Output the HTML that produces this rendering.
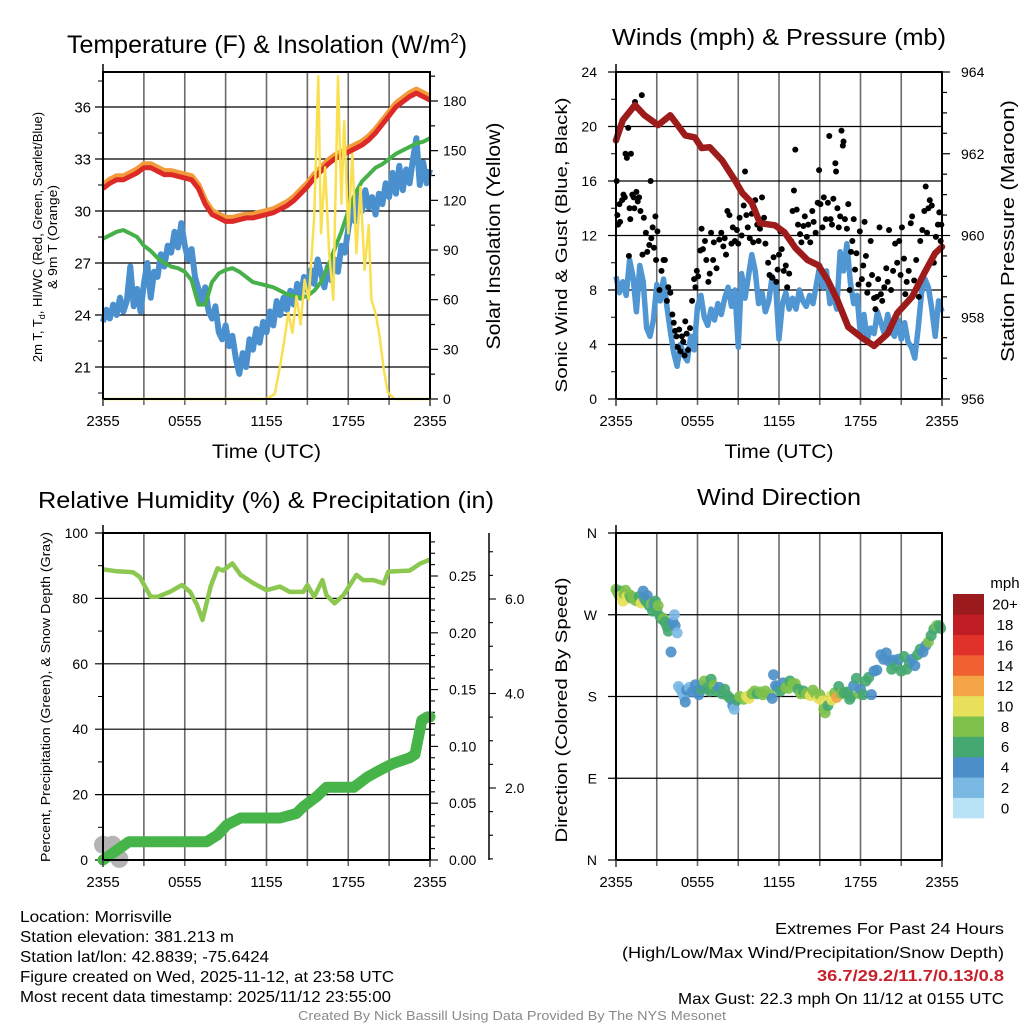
<!DOCTYPE html>
<html><head><meta charset="utf-8"><style>
html,body{margin:0;padding:0;background:#fff;}
svg{display:block;font-family:"Liberation Sans Narrow","Liberation Sans",sans-serif;}
</style></head><body>
<svg id="chart" width="1024" height="1024" viewBox="0 0 1024 1024" xmlns="http://www.w3.org/2000/svg"></svg>
<script>
// ---------- DATA ----------
const halfHours = Array.from({length:49},(_,i)=>i*0.5);
const quarterHours = Array.from({length:97},(_,i)=>i*0.25);
const timeTickHours = [0,6,12,18,24];
const timeTickLabels = ['2355','0555','1155','1755','2355'];

const tempRed = [31.3,31.6,31.8,31.8,32.0,32.2,32.5,32.5,32.3,32.1,32.1,32.0,31.9,31.8,31.3,30.4,29.8,29.6,29.4,29.4,29.5,29.6,29.6,29.7,29.8,29.9,30.1,30.3,30.6,31.0,31.4,31.9,32.3,32.7,33.0,33.2,33.4,33.6,33.8,34.1,34.5,35.0,35.5,36.0,36.3,36.6,36.8,36.6,36.4];
const temp9mOrange = [31.5,31.8,32.0,32.0,32.2,32.4,32.7,32.7,32.5,32.3,32.3,32.2,32.1,32.0,31.5,30.6,30.0,29.8,29.6,29.6,29.7,29.8,29.8,29.9,30.0,30.1,30.3,30.5,30.8,31.2,31.6,32.1,32.5,32.9,33.2,33.4,33.6,33.8,34.0,34.3,34.7,35.2,35.7,36.2,36.5,36.8,37.0,36.8,36.6];
const hiwcGreen = [28.4,28.6,28.8,28.9,28.7,28.5,28.0,27.7,27.3,27.0,26.8,26.7,26.5,26.0,24.6,24.6,25.9,26.4,26.6,26.7,26.5,26.2,25.9,25.8,25.7,25.6,25.4,25.2,25.1,25.0,25.1,25.4,25.9,26.8,27.8,28.8,30.0,31.0,31.7,32.1,32.5,32.7,33.0,33.3,33.5,33.7,33.9,34.0,34.2];
const dewBlue = [23.6,24.3,23.8,24.6, 24.0,25.0,24.2,24.8, 26.8,24.5,25.5,24.2, 25.8,27.0,25.0,26.5, 26.2,27.5,26.8,28.0, 27.6,28.8,27.9,29.3, 28.0,27.2,27.8,26.2, 25.5,24.8,25.6,24.2, 23.8,24.5,23.0,22.6, 23.4,22.2,22.8,21.5, 20.6,21.8,21.0,22.6, 22.0,23.2,22.4,23.6, 23.0,24.2,23.4,24.8, 24.0,25.0,24.3,25.4, 24.6,25.8,25.0,26.2, 25.4,26.6,25.8,27.2, 26.4,25.6,26.8,26.0, 27.2,26.5,28.0,27.6, 29.0,30.2,29.4,31.0, 30.0,31.2,30.2,30.8, 29.8,31.0,30.4,31.6, 30.8,32.2,31.0,32.6, 31.2,32.4,31.6,33.0, 34.2,31.5,32.8,31.6, 32.4];
const insolT = [0,12.0,12.6,13.0,13.3,13.6,13.9,14.2,14.5,14.8,15.1,15.5,15.8,16.0,16.3,16.6,16.9,17.25,17.5,17.7,18.0,18.3,18.6,18.9,19.2,19.5,19.7,20.0,20.3,20.6,20.9,21.4,24];
const insolV = [0,0,3,20,35,52,40,62,45,72,60,110,195,100,140,88,60,195,118,168,100,148,88,128,78,105,60,52,38,18,4,0,0];
const tempTicks = [21,24,27,30,33,36];
const insolTicks = [0,30,60,90,120,150,180];

const windBlue = [9.0,7.8,8.6,7.6, 10.2,9.0,6.4,9.8, 8.6,5.2,4.6,5.8, 8.4,7.2,8.8,6.8, 5.0,3.4,2.4,4.0, 3.2,2.8,4.6,3.6, 6.8,7.6,6.0,5.4, 6.6,5.8,7.0,6.2, 7.4,8.2,6.8,8.0, 3.8,9.2,7.4,9.0, 10.6,9.4,7.0,7.8, 6.4,7.2,9.0,8.4, 4.4,7.0,7.8,6.6, 7.4,6.6,8.0,7.2, 6.8,7.6,7.0,8.4, 9.8,8.2,9.4,7.0, 7.6,6.6,10.8,9.4, 11.4,8.6,7.0,7.6, 4.6,6.2,4.4,5.2, 4.8,6.4,5.6,4.8, 6.2,5.0,4.6,5.8, 4.4,5.6,4.2,3.8, 3.0,5.2,7.8,8.8, 8.2,6.6,4.6,7.2, 6.4];
const gustT = [0.05,0.1,0.15,0.25,0.3,0.45,0.55,0.65,0.7,0.8,0.9,1.0,1.05,0.95, 1.1,1.2,1.3,1.35,1.4,1.5,1.6,1.7,1.8,1.9,1.95,2.05, 2.2,2.3,2.45,2.55,2.6,2.7,2.8,2.9,2.95, 3.05,3.2,3.35,3.5,3.6,3.75,3.85,4.0, 4.15,4.25,4.35,4.45,4.55,4.65,4.75,4.85,4.95,5.05,5.1,5.2, 5.3,5.45,5.6,5.75,5.85,5.95,6.05,6.2, 6.3,6.4,6.55,6.65,6.8,6.9,7.0,7.15,7.2, 7.4,7.6,7.75,7.9,8.0,8.1,8.2,8.35, 8.5,8.6,8.75,8.9,9.0,9.1,9.25,9.4,9.5,9.6, 9.7,9.85,10.0,10.1,10.25,10.4,10.5,10.6,10.75, 10.9,11.0,11.2,11.3,11.5,11.6,11.8,11.9,12.0, 12.1,12.2,12.35,12.5,12.6,12.75,12.9,13.0,13.1, 13.2,13.3,13.4,13.55,13.65,13.8,13.9,14.05,14.15,14.3, 14.45,14.55,14.7,14.85,14.95,15.05,15.2,15.3,15.45,15.6, 15.7,15.8,15.9,16.0,16.15,16.2,16.3,16.4,16.5,16.6,16.7,16.75,16.85, 17.0,17.1,17.2,17.3,17.4,17.5,17.6,17.7,17.85,17.95, 18.1,18.2,18.3,18.4,18.5,18.6,18.75,18.85,19.0,19.1, 19.2,19.3,19.4,19.5,19.6,19.75,19.9,20.0,20.1, 20.25,20.4,20.55,20.7,20.85,20.95,21.05,21.2,21.3, 21.4,21.55,21.7,21.8,21.95,22.1,22.3,22.4,22.55, 22.7,22.8,22.9,23.0,23.1,23.25,23.4,23.55,23.7,23.8,23.9,23.95];
const gustV = [16,13.5,12.8,14.3,13,14.6,15,14.8,18,17.7,19.9,14,13.2,10.5, 18,15,14.8,14,21.8,15.2,14.5,14.8,13.8,22.3,10.6,13.3, 12.2,10.8,11.3,16,11.8,12.6,11.1,13.4,10.2, 12.3,8,9.4,10.2,10.2,7.2,8.2,7.8, 6.2,5.6,5,4.6,3.8,5.1,3.5,4.6,4.2,3.2,5.7,4.8, 3.6,5.2,7.2,8.8,8.2,9.4,9,10.9, 12.5,11,11.6,10.2,8.6,9.2,12.2,10.2,11.5, 9.6,11.7,12.2,11.2,11.8,10.6,13.8,13.5, 11.4,12.6,11.6,12.4,11.4,13.3,12,14.2,16.7,13.5, 12.6,11.8,13.6,11.5,14.6,12.8,11.6,12.5,14.8, 13.3,11.4,10,9.1,8.9,10.4,8.6,9.5,10.6, 12.3,11,9.4,9.8,8.2,9.2,11.6,13.8,15.3, 18.3,13.9,12.8,12.1,11.5,12.7,13.4,11.9,12.8,11.5, 13.8,13,12.2,14.4,16.8,14.3,12.6,14.8,13.2,14.4, 19.3,13.2,12.8,14.7,17.3,16.7,14,12.6,13.4,19.7,18.6,18.9,13.2, 12.5,14.3,8,10.8,11.6,13.2,9.5,10.7,8.4,12.3, 8.8,9.8,13,10.5,7.8,8.4,11.6,9.1,7.4,6.6, 7.5,8.8,12.6,7.7,7.2,8.2,9.6,8.6,12.4, 8,9.4,11.4,10,11.6,9.1,12.6,10.3,7.7, 8.6,9.4,12.9,13.4,8.7,10.2,7.5,11.6,12.4, 13.8,15.6,12.2,14,14.6,14.2,10,11.9,12.8,13.7,11.6,12.8];
const presT = [0,0.5,1.4,2.1,3.1,4.0,5.1,5.8,6.3,6.9,7.8,8.75,9.3,10.0,10.6,11.7,12.4,13.2,14.1,14.9,15.6,16.3,17.1,18.1,19.0,20.0,20.7,21.8,22.7,23.5,24];
const presV = [962.33,962.82,963.19,962.94,962.7,962.94,962.45,962.4,962.14,962.16,961.84,961.35,961.04,960.8,960.3,960.25,960.08,959.7,959.4,959.27,958.9,958.42,957.76,957.5,957.3,957.6,958.1,958.5,959.08,959.57,959.72];
const windTicks = [0,4,8,12,16,20,24];
const presTicks = [956,958,960,962,964];

const rhT = [0,1.0,2.2,2.7,3.5,4.0,4.9,5.8,6.4,6.9,7.3,7.9,8.4,8.8,9.5,10.1,11.05,12.0,13.0,13.7,14.7,15.0,15.5,16.1,16.4,17.0,17.65,18.6,19.1,19.85,20.6,20.95,22.5,23.3,23.9,24];
const rhV = [88.9,88.3,88,86.5,80.5,80.5,82,84.1,82,78,73.4,83.6,89.2,88.5,90.7,87.2,84.6,82.5,83.6,82,82,84.1,80.5,85.6,81,78.5,81,87.2,85.6,85.6,84.6,88.2,88.5,90.7,91.7,91.5];
const precipT = [0,1.9,7.6,8.4,9.1,10.1,13.0,14.2,14.7,15.7,16.4,18.4,19.4,20.3,21.3,22.5,22.9,23.4,23.8,24];
const precipV = [0,0.016,0.016,0.022,0.031,0.037,0.037,0.041,0.047,0.056,0.064,0.064,0.073,0.079,0.085,0.09,0.093,0.123,0.126,0.126];
const snowT = [0,0.7,1.2];
const snowV = [0.8,0.8,0.5];
const rhTicks = [0,20,40,60,80,100];
const precipTicks = [0,0.05,0.10,0.15,0.20,0.25];
const snowTicks = [2,4,6];

const dirT = [0,0.1,0.2,0.3,0.4,0.5,0.6,0.7,0.8,0.9,1.0,1.1,1.2,1.4,1.6,1.7,1.85,2.0,2.1,2.2,2.3,2.45,2.6,2.7,2.8,2.9,3.0,3.1,3.25,3.4,3.5,3.6,3.75,3.85,4.05,4.2,4.3,4.35,4.5,4.6,4.75,4.9,5.0,5.1,5.2,5.4,5.6,5.85,5.95,6.1,6.3,6.4,6.5,6.7,6.9,7.0,7.2,7.4,7.6,7.8,8.0,8.2,8.4,8.6,8.7,8.9,9.1,9.4,9.6,9.8,10.0,10.2,10.4,10.6,10.8,11.0,11.3,11.5,11.6,11.75,11.9,12.1,12.3,12.5,12.7,12.8,13.0,13.2,13.4,13.6,13.8,14.0,14.3,14.5,14.7,14.9,15.0,15.2,15.3,15.4,15.6,15.8,15.9,16.1,16.25,16.4,16.6,16.8,17.0,17.2,17.3,17.5,17.7,17.9,18.0,18.2,18.4,18.6,18.8,19.0,19.2,19.5,19.7,19.9,20.1,20.3,20.4,20.6,20.8,21.0,21.2,21.4,21.6,21.8,22.0,22.2,22.4,22.6,22.8,23.0,23.2,23.4,23.6,23.8,23.9];
const dirV = [298,295,292,296,291,285,293,297,290,288,292,289,290,286,285,290,283,296,288,285,291,280,282,274,282,285,275,280,268,265,266,262,257,252,229,262,270,258,250,191,188,184,180,174,187,190,185,193,186,182,188,192,197,189,186,199,192,186,190,183,188,181,178,170,166,176,180,177,180,178,183,186,183,185,182,186,182,178,204,192,190,186,195,190,189,197,194,194,188,183,186,183,181,187,183,178,182,175,166,162,170,180,176,184,179,191,183,184,185,177,180,192,200,183,188,182,197,201,182,208,209,226,221,228,219,210,220,214,221,208,224,210,217,221,214,226,232,229,236,240,247,254,258,258,255];
const dirSpeed = [8,8,8,7,10,10,8,8,10,10,8,7,8,8,8,7,10,4,4,7,4,7,8,7,4,7,7,8,7,7,8,7,7,6,4,4,3,4,2,2,2,2,2,4,4,2,4,4,4,4,6,4,8,6,6,6,8,6,4,6,6,6,7,4,2,6,8,8,10,10,8,8,6,8,8,8,8,4,4,4,4,6,4,8,8,6,8,8,6,8,6,8,10,8,8,10,8,10,8,8,6,10,10,8,13,6,8,6,6,6,6,4,6,8,4,6,6,6,4,4,4,4,4,4,4,6,4,6,4,6,6,6,6,4,4,6,6,4,4,8,6,6,8,6,6];
const dirTicks = [0,90,180,270,360];
const dirTickLabels = ['N','E','S','W','N'];
const speedColors = ['#b8e2f5','#7ab8e4','#4a8fc8','#45a870','#7dc14b','#e8e05a','#f5a445','#f06030','#e0322a','#c01c24','#9a1a1e'];
const speedLabels = ['0','2','4','6','8','10','12','14','16','18','20+'];

// ---------- HELPERS ----------
const NS='http://www.w3.org/2000/svg';
const svg=document.getElementById('chart');
function mk(tag, attrs, parent){const e=document.createElementNS(NS,tag);for(const k in attrs)e.setAttribute(k,attrs[k]);(parent||svg).appendChild(e);return e;}
function txt(str, attrs, parent){const e=mk('text',attrs,parent);e.textContent=str;return e;}
function linear(d0,d1,r0,r1){return v=>r0+(v-d0)/(d1-d0)*(r1-r0);}
function pathFrom(xs,ys,fx,fy){return xs.map((t,i)=>(i?'L':'M')+fx(t).toFixed(1)+' '+fy(ys[i]).toFixed(1)).join(' ');}

function drawFrame(P, g, hTicks, fy){
  const fx=linear(0,24,P.x0,P.x1);
  for(let h=3;h<24;h+=3){
    const l=mk('line',{x1:fx(h),x2:fx(h),y1:P.y0,y2:P.y1+6,stroke:'#6a6a6a','stroke-width':1.6},g);
    
    
  }
  hTicks.forEach(v=>{
    const y=fy(v);
    const l=mk('line',{x1:P.x0-8,x2:P.x1,y1:y,y2:y,stroke:'#000','stroke-width':1.2},g);
    
    
  });
}
function drawBorder(P,g){
  const r=mk('rect',{x:P.x0,y:P.y0,width:P.x1-P.x0,height:P.y1-P.y0,fill:'none',stroke:'#000','stroke-width':2},g);
  
  
  const fx=linear(0,24,P.x0,P.x1);
  [0,24].forEach(h=>{mk('line',{x1:fx(h),x2:fx(h),y1:P.y1,y2:P.y1+7,stroke:'#444','stroke-width':1.6},g);});
  mk('line',{x1:P.x0,x2:P.x0,y1:P.y0-8,y2:P.y0,stroke:'#000','stroke-width':1.5},g);
}
function drawTimeAxis(P,g,withTitle){
  const fx=linear(0,24,P.x0,P.x1);
  timeTickHours.forEach((h,i)=>{
    const t=txt(timeTickLabels[i],{x:fx(h),y:P.y1+27,'text-anchor':'middle','font-size':15},g);
    
    
  });
  if(withTitle){
    const t=txt('Time (UTC)',{x:(P.x0+P.x1)/2,y:P.y1+59,'text-anchor':'middle','font-size':19,textLength:109,lengthAdjust:'spacingAndGlyphs'},g);
    
    
  }
}
function vText(str,x,cy,size,len,g,name){
  const t=txt(str,{x:0,y:0,'text-anchor':'middle','font-size':size,transform:`translate(${x},${cy}) rotate(-90)`,textLength:len,lengthAdjust:'spacingAndGlyphs'},g);
  
  
  return t;
}
function title(str,cx,y,len,g,name){
  const t=txt(str,{x:cx,y:y,'text-anchor':'middle','font-size':23,textLength:len,lengthAdjust:'spacingAndGlyphs'},g);
  
  
  return t;
}

// ---------- PANEL 1 ----------
(function(){
  const P={x0:103,x1:430,y0:72,y1:399};
  const g=mk('g',{});
  
  
  const fx=linear(0,24,P.x0,P.x1);
  const fy=linear(36,21,107,367);
  const fi=linear(0,180,399,101);
  drawFrame(P,g,tempTicks,fy);
  for(let v=19.5;v<38;v+=1.5){ if(tempTicks.includes(v))continue; mk('line',{x1:P.x0-5,x2:P.x0,y1:fy(v),y2:fy(v),stroke:'#000','stroke-width':1},g); }
  for(let v=0;v<=195;v+=15){ const w=(v%30===0)?8:5; mk('line',{x1:P.x1,x2:P.x1+w,y1:fi(v),y2:fi(v),stroke:'#000','stroke-width':1.2},g); }
  const s1=mk('path',{d:pathFrom(quarterHours,dewBlue,fx,fy),fill:'none',stroke:'#4a90cf','stroke-width':6,'stroke-linejoin':'round'},g);
  
  
  const s2=mk('path',{d:pathFrom(halfHours,hiwcGreen,fx,fy),fill:'none',stroke:'#46b04a','stroke-width':4,'stroke-linejoin':'round'},g);
  
  
  const s3=mk('path',{d:pathFrom(halfHours,temp9mOrange,fx,fy),fill:'none',stroke:'#f39a3a','stroke-width':6,'stroke-linejoin':'round'},g);
  
  
  const s4=mk('path',{d:pathFrom(halfHours,tempRed,fx,fy),fill:'none',stroke:'#dc2a26','stroke-width':5,'stroke-linejoin':'round'},g);
  
  
  const s5=mk('path',{d:pathFrom(insolT,insolV,fx,fi),fill:'none',stroke:'#f8e050','stroke-width':2.5,'stroke-linejoin':'round'},g);
  
  
  drawBorder(P,g);
  tempTicks.forEach(v=>{const t=txt(String(v),{x:P.x0-12,y:fy(v)+5.5,'text-anchor':'end','font-size':15},g);
    
    });
  insolTicks.forEach(v=>{const t=txt(String(v),{x:P.x1+13,y:fi(v)+5,'text-anchor':'start','font-size':14},g);
    
    });
  drawTimeAxis(P,g,true);
  const tt=txt('',{x:267,y:53,'text-anchor':'middle','font-size':25},g);
  
  
  tt.innerHTML='Temperature (F) &amp; Insolation (W/m<tspan font-size="15" dy="-10">2</tspan><tspan dy="10">)</tspan>';
  const lt=txt('',{x:0,y:0,'text-anchor':'middle','font-size':13,transform:'translate(42,237) rotate(-90)'},g);
  
  
  lt.innerHTML='2m T, T<tspan font-size="9" dy="3">d</tspan><tspan dy="-3">, HI/WC (Red, Green, Scarlet/Blue)</tspan>';
  vText('& 9m T (Orange)',57,237,13,104,g,'left-y-axis-title-line2');
  vText('Solar Insolation (Yellow)',500,236,19,227,g,'right-y-axis-title');
})();

// ---------- PANEL 2 ----------
(function(){
  const P={x0:616,x1:942,y0:72,y1:399};
  const g=mk('g',{});
  
  
  const fx=linear(0,24,P.x0,P.x1);
  const fy=linear(0,24,399,72);
  const fp=linear(956,964,399,72);
  drawFrame(P,g,windTicks,fy);
  for(let v=2;v<24;v+=4){ mk('line',{x1:P.x0-5,x2:P.x0,y1:fy(v),y2:fy(v),stroke:'#000','stroke-width':1},g); }
  for(let v=956;v<=964.01;v+=0.5){ const w=(Math.abs(v-Math.round(v/2)*2)<0.01)?8:5; mk('line',{x1:P.x1,x2:P.x1+w,y1:fp(v),y2:fp(v),stroke:'#000','stroke-width':1.2},g); }
  const s1=mk('path',{d:pathFrom(quarterHours,windBlue,fx,fy),fill:'none',stroke:'#4f96d2','stroke-width':5.5,'stroke-linejoin':'round'},g);
  
  
  const gg=mk('g',{},g);
  
  
  gustT.forEach((t,i)=>{
    const c=mk('circle',{cx:fx(t),cy:fy(gustV[i]),r:3,fill:'#000'},gg);
    
    
  });
  const s2=mk('path',{d:pathFrom(presT,presV,fx,fp),fill:'none',stroke:'#9e1b1b','stroke-width':6.5,'stroke-linejoin':'round','stroke-linecap':'round'},g);
  
  
  drawBorder(P,g);
  windTicks.forEach(v=>{const t=txt(String(v),{x:P.x0-19,y:fy(v)+5,'text-anchor':'end','font-size':14},g);
    
    });
  presTicks.forEach(v=>{const t=txt(String(v),{x:P.x1+19,y:fp(v)+5,'text-anchor':'start','font-size':14},g);
    
    });
  drawTimeAxis(P,g,true);
  title('Winds (mph) & Pressure (mb)',779,45,334,g,'winds-panel-title');
  vText('Sonic Wind & Gust (Blue, Black)',567,245,17,295,g,'left-y-axis-title');
  vText('Station Pressure (Maroon)',1014,231,18,262,g,'right-y-axis-title');
})();

// ---------- PANEL 3 ----------
(function(){
  const P={x0:103,x1:430,y0:533,y1:860};
  const g=mk('g',{});
  
  
  const fx=linear(0,24,P.x0,P.x1);
  const fy=linear(0,100,860,533);
  const fp=linear(0,0.25,860,576);
  const fs=linear(2,6,788,599);
  drawFrame(P,g,rhTicks,fy);
  for(let v=10;v<100;v+=20){ mk('line',{x1:P.x0-5,x2:P.x0,y1:fy(v),y2:fy(v),stroke:'#000','stroke-width':1},g); }
  for(let k=0;k<=28;k++){ const v=k*0.01; const w=(k%5===0)?8:5; mk('line',{x1:P.x1,x2:P.x1+w,y1:fp(v),y2:fp(v),stroke:'#000','stroke-width':1.1},g); }
  const sa=mk('line',{x1:489,x2:489,y1:533,y2:860,stroke:'#000','stroke-width':1.5},g);
  
  
  for(let v=0.5;v<=7.4;v+=0.5){ const y=fs(v); if(y<533||y>860)continue; const w=(Math.abs(v%2)<0.01)?7:4; mk('line',{x1:489,x2:489+w,y1:y,y2:y,stroke:'#000','stroke-width':1.1},g); }
  const sg=mk('g',{},g);
  
  
  snowT.forEach((t,i)=>{
    const c=mk('circle',{cx:fx(t),cy:fs(snowV[i]),r:9,fill:'#b4b4b4'},sg);
    
    
  });
  const s1=mk('path',{d:pathFrom(rhT,rhV,fx,fy),fill:'none',stroke:'#8cc850','stroke-width':4.5,'stroke-linejoin':'round'},g);
  
  
  const s2=mk('path',{d:pathFrom(precipT,precipV,fx,fp),fill:'none',stroke:'#46b448','stroke-width':11,'stroke-linejoin':'round','stroke-linecap':'round'},g);
  
  
  drawBorder(P,g);
  rhTicks.forEach(v=>{const t=txt(String(v),{x:P.x0-15,y:fy(v)+5,'text-anchor':'end','font-size':14},g);
    
    });
  precipTicks.forEach(v=>{const t=txt(v.toFixed(2),{x:P.x1+19,y:fp(v)+5,'text-anchor':'start','font-size':14},g);
    
    });
  snowTicks.forEach(v=>{const t=txt(v.toFixed(1),{x:505,y:fs(v)+5,'text-anchor':'start','font-size':14},g);
    
    });
  drawTimeAxis(P,g,false);
  title('Relative Humidity (%) & Precipitation (in)',266,508,456,g,'humidity-panel-title');
  vText('Percent, Precipitation (Green), & Snow Depth (Gray)',50,697,13,330,g,'left-y-axis-title');
})();

// ---------- PANEL 4 ----------
(function(){
  const P={x0:616,x1:942,y0:533,y1:860};
  const g=mk('g',{});
  
  
  const fx=linear(0,24,P.x0,P.x1);
  const fy=linear(0,360,860,533);
  drawFrame(P,g,dirTicks,fy);
  const dg=mk('g',{},g);
  
  
  dirT.forEach((t,i)=>{
    const idx=Math.min(10,Math.floor(dirSpeed[i]/2));
    const c=mk('circle',{cx:fx(t),cy:fy(dirV[i]),r:5.5,fill:speedColors[idx],'fill-opacity':0.9},dg);
    
    
  });
  drawBorder(P,g);
  dirTicks.forEach((v,i)=>{const t=txt(dirTickLabels[i],{x:P.x0-19,y:fy(v)+5,'text-anchor':'end','font-size':14},g);
    
    });
  drawTimeAxis(P,g,false);
  title('Wind Direction',779,505,164,g,'wind-direction-title');
  vText('Direction (Colored By Speed)',567,710,17,265,g,'left-y-axis-title');
  const cb=mk('g',{},g);
  
  
  const cbTop=594, cbH=224/11;
  speedColors.forEach((c,i)=>{
    const y=cbTop+(10-i)*cbH;
    const r=mk('rect',{x:953,y:y,width:31,height:cbH+0.3,fill:c},cb);
    
    
    const t=txt(speedLabels[i],{x:1005,y:y+cbH/2+5.5,'text-anchor':'middle','font-size':15},cb);
    
    
  });
  const mt=txt('mph',{x:1005,y:588,'text-anchor':'middle','font-size':15},cb);
  
  
})();

// ---------- FOOTER ----------
(function(){
  const g=mk('g',{});
  
  
  const left=[['Location: Morrisville',152],['Station elevation: 381.213 m',214],['Station lat/lon: 42.8839; -75.6424',249],['Figure created on Wed, 2025-11-12, at 23:58 UTC',374],['Most recent data timestamp: 2025/11/12 23:55:00',371]];
  left.forEach((l,i)=>{
    const t=txt(l[0],{x:20,y:922+i*20,'font-size':16,textLength:l[1],lengthAdjust:'spacingAndGlyphs'},g);
    
    
  });
  const right=[['Extremes For Past 24 Hours',934,229,'#000','normal'],['(High/Low/Max Wind/Precipitation/Snow Depth)',958,382,'#000','normal'],['36.7/29.2/11.7/0.13/0.8',981,187,'#c8202a','bold'],['Max Gust: 22.3 mph On 11/12 at 0155 UTC',1004,326,'#000','normal']];
  right.forEach(r=>{
    const t=txt(r[0],{x:1004,y:r[1],'text-anchor':'end','font-size':16,fill:r[3],'font-weight':r[4],textLength:r[2],lengthAdjust:'spacingAndGlyphs'},g);
    
    
  });
  const c=txt('Created By Nick Bassill Using Data Provided By The NYS Mesonet',{x:512,y:1020,'text-anchor':'middle','font-size':13,fill:'#8a8a8a',textLength:428,lengthAdjust:'spacingAndGlyphs'},g);
  
  
})();
</script>
</body></html>
